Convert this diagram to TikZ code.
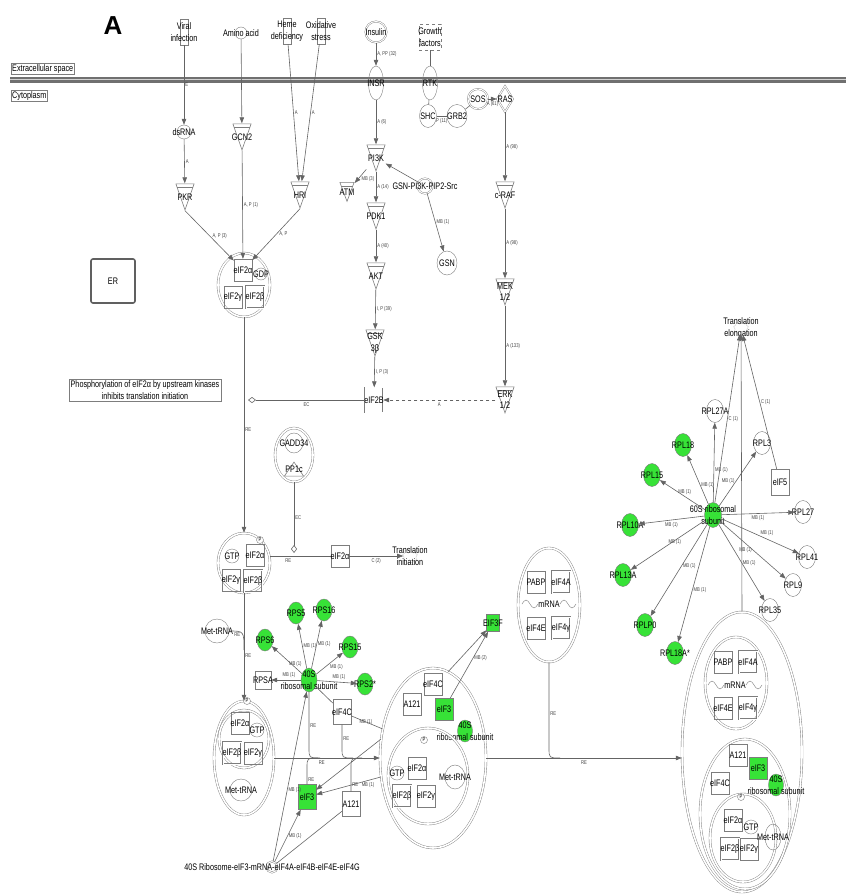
\documentclass[tikz,border=0pt]{standalone}
\usepackage{fontspec}
\setmainfont{Liberation Sans}[FakeStretch=0.76]
\newfontfamily\titlefont{Liberation Sans}
\usetikzlibrary{arrows.meta,positioning,shapes.geometric,shapes.misc,calc}
\definecolor{ngray}{RGB}{125,125,125}
\definecolor{agray}{RGB}{100,100,100}
\definecolor{mgray}{RGB}{112,112,112}
\definecolor{hitgreen}{RGB}{55,226,55}
\newcommand{\nf}{\fontsize{9.5}{11.5}\selectfont}
\newcommand{\ef}{\fontsize{5.5}{6}\selectfont}

\begin{document}
\begin{tikzpicture}[x=1pt, y=-1pt,
    txt/.style={font=\nf, align=center, inner sep=0pt},
    elbl/.style={font=\ef, inner sep=1pt, text=black!75},
    ent/.style={draw=ngray, inner sep=0pt, label={[txt]center:#1}},
    kinase/.style={ent=#1, draw=white, draw opacity=0, minimum width=19pt, minimum height=27pt,
      path picture={
        \draw[ngray, draw opacity=1, line width=.6pt]
          ([xshift=.4pt,yshift=-.4pt]path picture bounding box.north west)
          -- ([xshift=-.4pt,yshift=-.4pt]path picture bounding box.north east)
          -- ([yshift=.6pt]path picture bounding box.south) -- cycle;
        \draw[ngray, draw opacity=1, line width=.5pt]
          ([xshift=1.7pt,yshift=-4pt]path picture bounding box.north west)
          -- ([xshift=-1.7pt,yshift=-4pt]path picture bounding box.north east);}},
    phosph/.style={ent=#1, draw=white, draw opacity=0, minimum width=20pt, minimum height=15pt,
      path picture={
        \draw[ngray, draw opacity=1, line width=.6pt]
          ([xshift=.4pt,yshift=.4pt]path picture bounding box.south west)
          -- ([xshift=-.4pt,yshift=.4pt]path picture bounding box.south east)
          -- ([yshift=-.6pt]path picture bounding box.north) -- cycle;}},
    chem/.style={ent=#1, circle, minimum size=13pt},
    gene/.style={ent=#1, ellipse, minimum width=17pt, minimum height=23pt},
    hit/.style={gene=#1, fill=hitgreen},
    regbox/.style={ent=#1, chamfered rectangle, chamfered rectangle xsep=3pt, chamfered rectangle ysep=3pt, minimum width=18pt, minimum height=22pt},
    hitreg/.style={regbox=#1, fill=hitgreen},
    sqbox/.style={ent=#1, rectangle, minimum width=16pt, minimum height=18pt},
    fnbox/.style={ent=#1, rectangle, minimum width=8pt, minimum height=26pt},
    recep/.style={ent=#1, ellipse, minimum width=15pt, minimum height=34pt},
    func/.style={ent=#1, star, star points=9, star point ratio=1.25, minimum size=15pt, draw=gray!40},
    pmark/.style={draw=ngray, circle, minimum size=7pt, inner sep=0pt, font=\ef, fill=white},
    cplx/.style={draw=ngray, double=white, double distance=1.6pt, ellipse, inner sep=0pt},
    dbl/.style={double=white, double distance=1pt},
    rel/.style={draw=agray, line width=.6pt, -{Triangle[length=6pt,width=4.5pt]}},
    link/.style={draw=agray, line width=.6pt},
    ecline/.style={draw=agray, line width=.6pt, -{Diamond[fill=white,length=8pt,width=6pt]}}
  ]
  \useasboundingbox (0,0) rectangle (846,896);

  % membrane and compartments
  \draw[line width=6pt, mgray] (10,80) -- (846,80);
  \draw[line width=1pt, gray!35] (10,80) -- (846,80);
  \node[font=\titlefont\bfseries\fontsize{26}{26}\selectfont] (title) at (113,26) {A};
  \node[txt, draw=ngray, inner sep=1pt, anchor=west] (ecs) at (11,69) {Extracellular space};
  \node[txt, draw=ngray, inner sep=1pt, anchor=west] (cyto) at (11,96) {Cytoplasm};

  % upstream signals
  \node[fnbox={Viral\\infection}] (viral) at (184,32) {};
  \node[chem={Amino acid}, minimum size=12pt] (amino) at (241,33) {};
  \node[fnbox={Heme\\deficiency}] (heme) at (287,31) {};
  \node[fnbox={Oxidative\\stress}] (oxid) at (321,31) {};
  \node[chem=Insulin, dbl, minimum size=21pt] (insulin) at (376,32) {};
  \node[fnbox={Growth\\factors}, dashed, minimum width=22pt] (growth) at (430,37) {};
  \node[recep=INSR] (insr) at (376,83) {};
  \node[recep=RTK] (rtk) at (430,83) {};
  \node[gene=SHC] (shc) at (428,116) {};
  \node[gene=GRB2, minimum width=20pt] (grb2) at (457,116) {};
  \node[chem=SOS, dbl, minimum size=20pt] (sos) at (478,99) {};
  \node[ent=RAS, diamond, dbl, minimum width=16pt, minimum height=26pt] (ras) at (505,99) {};

  % eIF2 alpha kinases
  \node[chem=dsRNA, minimum size=14pt] (dsrna) at (184,132) {};
  \node[kinase=GCN2] (gcn2) at (242,137) {};
  \node[kinase=PKR] (pkr) at (185,197) {};
  \node[kinase=HRI] (hri) at (300,195) {};
  \node[ent=ER, rectangle, rounded corners=2pt, line width=1.6pt, draw=gray!75!black, minimum size=44pt] (er) at (113,281) {};

  \node[cplx, minimum width=52pt, minimum height=64pt] (e2cplx1) at (244,285) {};
  \node[regbox=eIF2α] (e2a1) at (243,270) {};
  \node[chem=GDP, minimum size=12pt] (gdp1) at (261,274) {};
  \node[regbox=eIF2γ] (e2g1) at (233,297) {};
  \node[regbox=eIF2β, dbl] (e2b1) at (255,297) {};

  % insulin and growth factor branches
  \node[kinase=PI3K] (pi3k) at (376,158) {};
  \node[kinase=ATM, minimum width=15pt, minimum height=20pt] (atm) at (347,192) {};
  \node[chem=GSN-PI3K-PIP2-Src, dbl, minimum size=15pt] (gsnc) at (425,186) {};
  \node[kinase=PDK1] (pdk1) at (376,216) {};
  \node[gene=GSN, minimum width=20pt, minimum height=24pt] (gsn) at (447,263) {};
  \node[kinase=AKT] (akt) at (376,276) {};
  \node[kinase={GSK\\3β}] (gsk) at (375,343) {};
  \node[kinase=c-RAF] (craf) at (505,195) {};
  \node[kinase={MEK\\1/2}] (mek) at (505,292) {};
  \node[kinase={ERK\\1/2}] (erk) at (505,400) {};
  \node[regbox=eIF2B, dbl, minimum height=25pt] (e2bf) at (374,400) {};
  \node[txt, draw=ngray, inner sep=1.5pt] (phosnote) at (145,390) {Phosphorylation of eIF2α by upstream kinases\\inhibits translation initiation};
  \coordinate (dia1) at (248,400);

  % dephosphorylation
  \node[cplx, minimum width=38pt, minimum height=54pt] (gadd) at (294,455) {};
  \node[gene=GADD34, minimum width=18pt, minimum height=20pt] (gadd34) at (294,443) {};
  \node[phosph=PP1c] (pp1c) at (294,469) {};
  \coordinate (dia2) at (294,553);

  \node[cplx, minimum width=52pt, minimum height=60pt] (e2cplx2) at (244,563) {};
  \node[pmark] (p2) at (260,540) {P};
  \node[chem=GTP, minimum size=14pt] (gtp2) at (232,556) {};
  \node[regbox=eIF2α] (e2a2) at (255,555) {};
  \node[regbox=eIF2γ] (e2g2) at (231,580) {};
  \node[regbox=eIF2β, dbl] (e2b2) at (253,581) {};
  \node[regbox=eIF2α] (e2af) at (340,556) {};
  \node[func={Translation\\initiation}] (tinit) at (410,556) {};

  % 40S subunit
  \node[gene=Met-tRNA, minimum width=24pt, minimum height=24pt] (mettrna1) at (217,631) {};
  \coordinate (mj) at (244,650);
  \node[hit={40S\\ribosomal subunit}, minimum width=16pt, minimum height=24pt] (hub40) at (309,680) {};
  \node[hit=RPS5, minimum width=16pt, minimum height=22pt] (rps5) at (296,613) {};
  \node[hit=RPS16, minimum width=16pt, minimum height=22pt] (rps16) at (324,610) {};
  \node[hit=RPS6, minimum width=16pt, minimum height=22pt] (rps6) at (265,640) {};
  \node[hit=RPS15, minimum width=16pt, minimum height=22pt] (rps15) at (350,647) {};
  \node[sqbox=RPSA] (rpsa) at (263,680) {};
  \node[hit=RPS2*, minimum width=16pt, minimum height=22pt] (rps2) at (365,684) {};
  \node[regbox=eIF4C, minimum height=25pt] (eif4c1) at (342,712) {};

  \node[cplx, minimum width=60pt, minimum height=114pt] (e2cplx3) at (244,758) {};
  \node[cplx, minimum width=50pt, minimum height=58pt] (e2in3) at (244,739) {};
  \node[pmark] (p3) at (247,701) {P};
  \node[regbox=eIF2α] (e2a3) at (240,723) {};
  \node[chem=GTP, minimum size=14pt] (gtp3) at (257,730) {};
  \node[regbox=eIF2β, dbl] (e2b3) at (232,753) {};
  \node[regbox=eIF2γ] (e2g3) at (253,753) {};
  \node[gene=Met-tRNA, minimum width=22pt, minimum height=22pt] (mettrna3) at (241,790) {};

  \node[hitreg=eIF3, minimum height=25pt] (eif3a) at (307,797) {};
  \node[regbox=A121, minimum height=25pt] (a121a) at (351,804) {};
  \node[chem={40S Ribosome-eIF3-mRNA-eIF4A-eIF4B-eIF4E-eIF4G}, dbl, minimum size=11pt] (rib40) at (272,867) {};
  \coordinate (j1) at (320,758);
  \coordinate (j2) at (353,758);
  \coordinate (j3) at (318,758);
  \coordinate (j4) at (362,758);

  % 43S complex
  \node[cplx, minimum width=106pt, minimum height=180pt] (midcplx) at (433,758) {};
  \node[regbox=eIF4C] (eif4c2) at (433,684) {};
  \node[regbox=A121] (a121b) at (412,704) {};
  \node[hitreg=eIF3] (eif3b) at (444,709) {};
  \node[hit={40S\\ribosomal subunit}, minimum width=15pt, minimum height=22pt] (hub40b) at (465,731) {};
  \node[cplx, minimum width=80pt, minimum height=96pt] (midin) at (428,776) {};
  \node[pmark] (p4) at (424,740) {P};
  \node[chem=GTP, minimum size=14pt] (gtp4) at (397,773) {};
  \node[regbox=eIF2α] (e2a4) at (417,768) {};
  \node[gene=Met-tRNA, minimum width=20pt, minimum height=24pt] (mettrna4) at (455,777) {};
  \node[regbox=eIF2β, dbl] (e2b4) at (402,796) {};
  \node[regbox=eIF2γ] (e2g4) at (426,796) {};
  \node[sqbox=EIF3F, fill=hitgreen, minimum width=13pt, minimum height=17pt] (eif3f) at (493,623) {};

  % mRNA complex
  \node[cplx, minimum width=62pt, minimum height=114pt] (mrnacplx) at (549,605) {};
  \node[regbox=PABP] (pabp1) at (536,582) {};
  \node[regbox=eIF4A, dbl] (eif4a1) at (561,582) {};
  \node[txt] (mrna1) at (549,604) {mRNA};
  \draw[ngray] (522,604) sin ++(4,-4) cos ++(4,4) sin ++(4,4) cos ++(4,-4);
  \draw[ngray] (560,604) sin ++(4,-4) cos ++(4,4) sin ++(4,4) cos ++(4,-4);
  \node[regbox=eIF4E] (eif4e1) at (536,628) {};
  \node[regbox=eIF4γ, dbl] (eif4g1) at (561,628) {};
  \coordinate (jr) at (560,758);

  % 48S complex
  \node[cplx, minimum width=120pt, minimum height=280pt] (final) at (742,752) {};
  \node[cplx, minimum width=62pt, minimum height=92pt] (fmrna) at (736,683) {};
  \node[regbox=PABP] (pabp2) at (723,662) {};
  \node[regbox=eIF4A, dbl] (eif4a2) at (748,662) {};
  \node[txt] (mrna2) at (735,685) {mRNA};
  \draw[ngray] (708,685) sin ++(4,-4) cos ++(4,4) sin ++(4,4) cos ++(4,-4);
  \draw[ngray] (746,685) sin ++(4,-4) cos ++(4,4) sin ++(4,4) cos ++(4,-4);
  \node[regbox=eIF4E] (eif4e2) at (723,708) {};
  \node[regbox=eIF4γ, dbl] (eif4g2) at (748,708) {};
  \node[cplx, minimum width=90pt, minimum height=150pt] (f40) at (745,814) {};
  \node[regbox=A121] (a121c) at (738,755) {};
  \node[hitreg=eIF3] (eif3c) at (758,768) {};
  \node[hit={40S\\ribosomal subunit}, minimum width=15pt, minimum height=22pt] (hub40c) at (776,785) {};
  \node[regbox=eIF4C] (eif4c3) at (720,783) {};
  \node[cplx, minimum width=66pt, minimum height=88pt] (fin) at (743,838) {};
  \node[pmark] (p5) at (741,797) {P};
  \node[regbox=eIF2α] (e2a5) at (733,820) {};
  \node[chem=GTP, minimum size=14pt] (gtp5) at (751,827) {};
  \node[regbox=eIF2β, dbl] (e2b5) at (730,849) {};
  \node[regbox=eIF2γ] (e2g5) at (749,849) {};
  \node[gene=Met-tRNA, minimum width=16pt, minimum height=26pt] (mettrna5) at (773,837) {};

  % 60S subunit
  \node[func={Translation\\elongation}] (tel) at (741,328) {};
  \node[hit={60S ribosomal\\subunit}, minimum height=25pt] (hub60) at (713,515) {};
  \node[gene=RPL27A] (rpl27a) at (715,411) {};
  \node[gene=RPL3] (rpl3) at (762,443) {};
  \node[hit=RPL18] (rpl18) at (683,445) {};
  \node[hit=RPL15] (rpl15) at (652,475) {};
  \node[sqbox=eIF5, minimum width=18pt, minimum height=26pt] (eif5) at (780,482) {};
  \node[hit=RPL10A] (rpl10a) at (630,525) {};
  \node[gene=RPL27] (rpl27) at (803,512) {};
  \node[gene=RPL41] (rpl41) at (807,557) {};
  \node[hit=RPL13A] (rpl13a) at (623,575) {};
  \node[gene=RPL9] (rpl9) at (793,585) {};
  \node[gene=RPL35] (rpl35) at (770,610) {};
  \node[hit=RPLP0] (rplp0) at (645,625) {};
  \node[hit=RPL18A*] (rpl18a) at (675,653) {};

  % upstream relations
  \draw[rel] (viral) -- (dsrna) node[elbl, midway, right] {E};
  \draw[rel] (amino) -- (gcn2);
  \draw[rel] (heme) -- (hri) node[elbl, midway, right] {A};
  \draw[rel] (oxid) -- (hri) node[elbl, midway, right] {A};
  \draw[rel] (dsrna) -- (pkr) node[elbl, midway, right] {A};
  \draw[rel] (gcn2) -- (e2a1) node[elbl, midway, right] {A, P (1)};
  \draw[rel] (pkr.south) -- (e2a1) node[elbl, midway, right=2pt] {A, P (3)};
  \draw[rel] (hri.south) -- (e2a1) node[elbl, midway, right=2pt] {A, P};
  \draw[rel] (insulin) -- (insr) node[elbl, midway, right] {A, PP (32)};
  \draw[rel] (insr) -- (pi3k) node[elbl, midway, right] {A (6)};
  \draw[link] (growth) -- (rtk);
  \draw[link] (rtk) -- (shc);
  \draw[link] (shc) -- (grb2) node[elbl, midway, below=1pt] {P (11)};
  \draw[link] (grb2) -- (sos);
  \draw[rel] (sos) -- (ras) node[elbl, midway, below=1pt] {A (61)};
  \draw[rel] (ras) -- (craf) node[elbl, midway, right] {A (98)};
  \draw[rel] (craf) -- (mek) node[elbl, midway, right] {A (98)};
  \draw[rel] (mek) -- (erk) node[elbl, midway, right] {A (133)};
  \draw[rel, dashed] (erk) -- (e2bf) node[elbl, midway, below=1pt] {A};
  \draw[rel] (pi3k) -- (atm) node[elbl, pos=.45, below right=-1pt] {MB (3)};
  \draw[rel] (pi3k) -- (pdk1) node[elbl, midway, right] {A (14)};
  \draw[rel] (gsnc) -- (pi3k);
  \draw[rel] (gsnc) -- (gsn) node[elbl, midway, right] {MB (1)};
  \draw[rel] (pdk1) -- (akt) node[elbl, midway, right] {A (40)};
  \draw[rel] (akt) -- (gsk) node[elbl, midway, right] {I, P (39)};
  \draw[rel] (gsk) -- (e2bf) node[elbl, midway, right] {I, P (3)};
  \draw[ecline] (e2bf) -- (dia1) node[elbl, midway, below=1pt] {EC};

  % eIF2 cycle
  \draw[rel] (e2cplx1) -- (e2cplx2) node[elbl, pos=.52, right] {RE};
  \draw[ecline] (gadd) -- (dia2) node[elbl, midway, right] {EC};
  \draw[link] (e2cplx2.east |- e2af.west) -- (e2af) node[elbl, pos=.3, below=1pt] {RE};
  \draw[rel] (e2af) -- (tinit) node[elbl, midway, below=1pt] {C (2)};
  \draw[rel] (e2cplx2) -- (e2cplx3) node[elbl, pos=.58, right] {RE};
  \draw[link] (mettrna1.east) .. controls (244,631) .. (mj) node[elbl, pos=.4, below left=-1pt] {RE};

  % 40S spokes
  \draw[rel] (hub40) -- (rps5) node[elbl, midway, right] {MB (1)};
  \draw[rel] (hub40) -- (rps16) node[elbl, midway, right] {MB (1)};
  \draw[rel] (hub40) -- (rps6) node[elbl, pos=.45, below right=-1pt] {MB (1)};
  \draw[rel] (hub40) -- (rps15) node[elbl, pos=.5, below right=-1pt] {MB (1)};
  \draw[rel] (hub40) -- (rpsa) node[elbl, pos=.4, above=1pt] {MB (1)};
  \draw[rel] (hub40) -- (rps2) node[elbl, pos=.55, above=1pt] {MB (1)};
  \draw[link] (hub40) -- (eif4c1);
  \draw[link] (eif4c1) -- (midcplx.150) node[elbl, pos=.25, below right=-1pt] {MB (1)};
  \draw[rel] (rib40) -- (hub40) node[elbl, pos=.42, right] {MB (1)};
  \draw[rel] (rib40) -- (eif3a) node[elbl, pos=.5, right] {MB (1)};
  \draw[link] (rib40) -- (a121a);
  \draw[rel] (midcplx.160) -- (eif3a);
  \draw[rel] (midcplx.200) -- (eif3a) node[elbl, pos=.2, below=1pt] {MB (1)};
  \draw[rel] (midcplx.80) -- (eif3f);
  \draw[rel] (eif3b) -- (eif3f) node[elbl, pos=.6, right] {MB (2)};

  % assembly
  \draw[link] (hub40.south) -- node[elbl, right, pos=.6] {RE} (309,748) .. controls (309,758) .. (j1);
  \draw[link] (eif4c1.south) -- node[elbl, right, pos=.6] {RE} (342,748) .. controls (342,758) .. (j2);
  \draw[link] (eif3a.north) -- node[elbl, right, pos=.3] {RE} (307,768) .. controls (307,758) .. (j3);
  \draw[link] (a121a.north) -- node[elbl, right, pos=.3] {RE} (351,768) .. controls (351,758) .. (j4);
  \draw[rel] (e2cplx3.east) -- (midcplx.west) node[elbl, pos=.45, below=1pt] {RE};
  \draw[rel] (midcplx.east) -- (final.west |- midcplx.east) node[elbl, pos=.5, below=1pt] {RE};
  \draw[link] (mrnacplx.south) -- node[elbl, right, pos=.6] {RE} (549,748) .. controls (549,758) .. (jr);

  % 60S spokes
  \draw[rel] (hub60) -- (rpl27a) node[elbl, pos=.4, right] {MB (1)};
  \draw[rel] (hub60) -- (rpl18) node[elbl, pos=.4, right] {MB (1)};
  \draw[rel] (hub60) -- (rpl15) node[elbl, pos=.45, above=1pt] {MB (1)};
  \draw[rel] (hub60) -- (rpl10a) node[elbl, pos=.5, below=1pt] {MB (1)};
  \draw[rel] (hub60) -- (rpl13a) node[elbl, pos=.5, above right=-1pt] {MB (1)};
  \draw[rel] (hub60) -- (rplp0) node[elbl, pos=.45, right] {MB (1)};
  \draw[rel] (hub60) -- (rpl18a) node[elbl, pos=.55, right] {MB (1)};
  \draw[rel] (hub60) -- (rpl35) node[elbl, pos=.5, right] {MB (1)};
  \draw[rel] (hub60) -- (rpl9) node[elbl, pos=.5, left] {MB (1)};
  \draw[rel] (hub60) -- (rpl41) node[elbl, pos=.5, above right=-1pt] {MB (1)};
  \draw[rel] (hub60) -- (rpl27) node[elbl, pos=.5, below=1pt] {MB (1)};
  \draw[rel] (hub60) -- (rpl3) node[elbl, pos=.45, left] {MB (1)};
  \draw[rel] (hub60) -- (tel) node[elbl, pos=.5, right] {C (1)};
  \draw[rel] (eif5) -- (tel) node[elbl, pos=.5, right] {C (1)};
  \draw[rel] (final.north) -- (tel);
\end{tikzpicture}
\end{document}
